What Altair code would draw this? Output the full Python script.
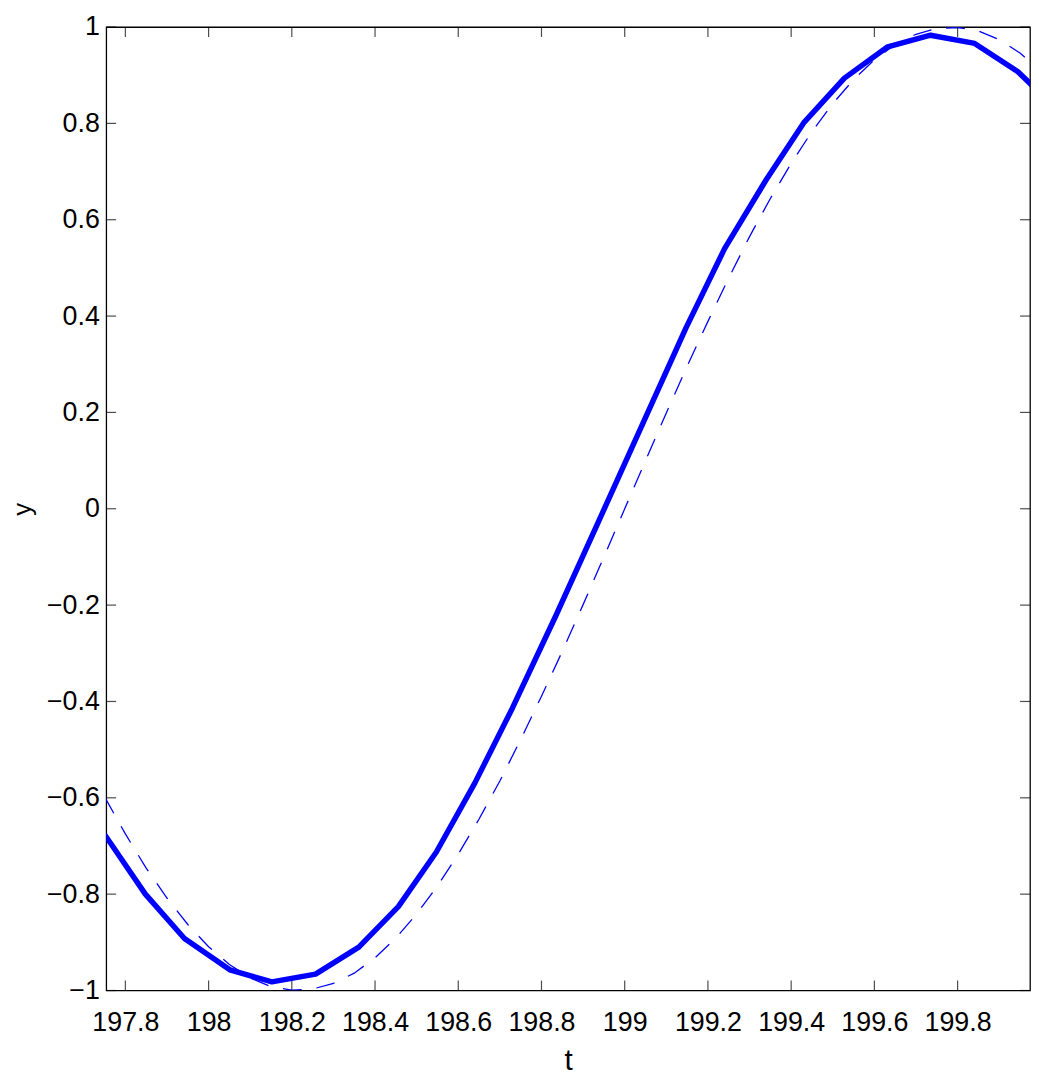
import altair as alt
import pandas as pd

# ---- data ----
t_solid = [197.75, 197.848, 197.942, 198.051, 198.152, 198.257, 198.361, 198.456,
           198.547, 198.64, 198.73, 198.835, 198.94, 199.045, 199.147, 199.24,
           199.34, 199.43, 199.528, 199.632, 199.735, 199.841, 199.945, 200.05]
y_solid = [-0.676, -0.800, -0.892, -0.957, -0.982, -0.966, -0.910, -0.826,
           -0.713, -0.569, -0.414, -0.221, -0.021, 0.180, 0.375, 0.540,
           0.683, 0.801, 0.894, 0.959, 0.983, 0.966, 0.907, 0.820]

t_dash = [197.75, 197.80, 197.85, 197.90, 197.95, 198.00, 198.05, 198.10, 198.15,
          198.20, 198.25, 198.30, 198.35, 198.40, 198.45, 198.50, 198.55, 198.60,
          198.65, 198.70, 198.75, 198.80, 198.85, 198.90, 198.95, 199.00, 199.05,
          199.10, 199.15, 199.20, 199.25, 199.30, 199.35, 199.40, 199.45, 199.50,
          199.55, 199.60, 199.65, 199.70, 199.75, 199.80, 199.85, 199.90, 199.95,
          200.00]
y_dash = [-0.598, -0.675, -0.746, -0.808, -0.863, -0.909, -0.946, -0.974, -0.992,
          -0.999, -0.997, -0.985, -0.964, -0.932, -0.891, -0.841, -0.783, -0.717,
          -0.644, -0.565, -0.479, -0.389, -0.296, -0.199, -0.100, 0.000, 0.100,
          0.199, 0.296, 0.389, 0.479, 0.565, 0.644, 0.717, 0.783, 0.841,
          0.891, 0.932, 0.964, 0.985, 0.997, 0.999, 0.992, 0.974, 0.946,
          0.909]

x_ticks = [197.8, 198.0, 198.2, 198.4, 198.6, 198.8, 199.0, 199.2, 199.4, 199.6, 199.8]
y_ticks = [-1.0, -0.8, -0.6, -0.4, -0.2, 0.0, 0.2, 0.4, 0.6, 0.8, 1.0]
x_range = [197.754, 199.974]
y_range = [-1.0, 1.0]

FONT = "Liberation Sans Narrow, Arial Narrow, Liberation Sans, Arial"
BLUE = "#0000ff"

solid_df = pd.DataFrame({"t": t_solid, "y": y_solid})
dash_df = pd.DataFrame({"t": t_dash, "y": y_dash})
bottom_df = pd.DataFrame({"t": x_ticks, "y": [y_range[0]] * len(x_ticks)})
top_df = pd.DataFrame({"t": x_ticks, "y": [y_range[1]] * len(x_ticks)})
left_df = pd.DataFrame({"t": [x_range[0]] * len(y_ticks), "y": y_ticks})
right_df = pd.DataFrame({"t": [x_range[1]] * len(y_ticks), "y": y_ticks})

xscale = alt.Scale(domain=x_range, nice=False, zero=False)
yscale = alt.Scale(domain=y_range, nice=False, zero=False)
xaxis = alt.Axis(values=x_ticks, format="~g", grid=False, ticks=False, tickSize=0,
                 domain=False, labelPadding=19, titlePadding=11,
                 labelFont=FONT, labelFontSize=27, labelColor="black",
                 titleFont=FONT, titleFontSize=30, titleFontWeight="normal",
                 titleColor="black", labelFlush=False, labelOverlap=False)
yaxis = alt.Axis(values=y_ticks, format="~g", grid=False, ticks=False, tickSize=0,
                 domain=False, labelPadding=7, titlePadding=11,
                 labelFont=FONT, labelFontSize=27, labelColor="black",
                 titleFont=FONT, titleFontSize=26, titleFontWeight="normal",
                 titleColor="black", labelFlush=False, labelOverlap=False)

def enc(base):
    return base.encode(
        x=alt.X("t:Q", scale=xscale, axis=xaxis, title="t"),
        y=alt.Y("y:Q", scale=yscale, axis=yaxis, title="y"),
    )

solid = enc(alt.Chart(solid_df).mark_line(color=BLUE, strokeWidth=5.5, clip=True,
                                           strokeJoin="round"))
dashed = enc(alt.Chart(dash_df).mark_line(color=BLUE, strokeWidth=1.3, clip=True,
                                           strokeDash=[19, 15]))

TL = 10
tb = enc(alt.Chart(bottom_df).mark_tick(orient="vertical", size=TL, thickness=1.2,
                                         color="black", yOffset=-TL / 2))
tt = enc(alt.Chart(top_df).mark_tick(orient="vertical", size=TL, thickness=1.2,
                                      color="black", yOffset=TL / 2))
tl = enc(alt.Chart(left_df).mark_tick(orient="horizontal", size=TL, thickness=1.2,
                                       color="black", xOffset=TL / 2))
tr = enc(alt.Chart(right_df).mark_tick(orient="horizontal", size=TL, thickness=1.2,
                                        color="black", xOffset=-TL / 2))

chart = alt.layer(solid, dashed, tb, tt, tl, tr).properties(
    width=931, height=971,
    autosize=alt.AutoSizeParams(type="none"),
    padding={"left": 99, "top": 15, "right": 1, "bottom": 84},
    background="white",
).configure_view(stroke="black", strokeWidth=1.3)

chart.save("out.html", embed_options={"renderer": "svg", "actions": False})
